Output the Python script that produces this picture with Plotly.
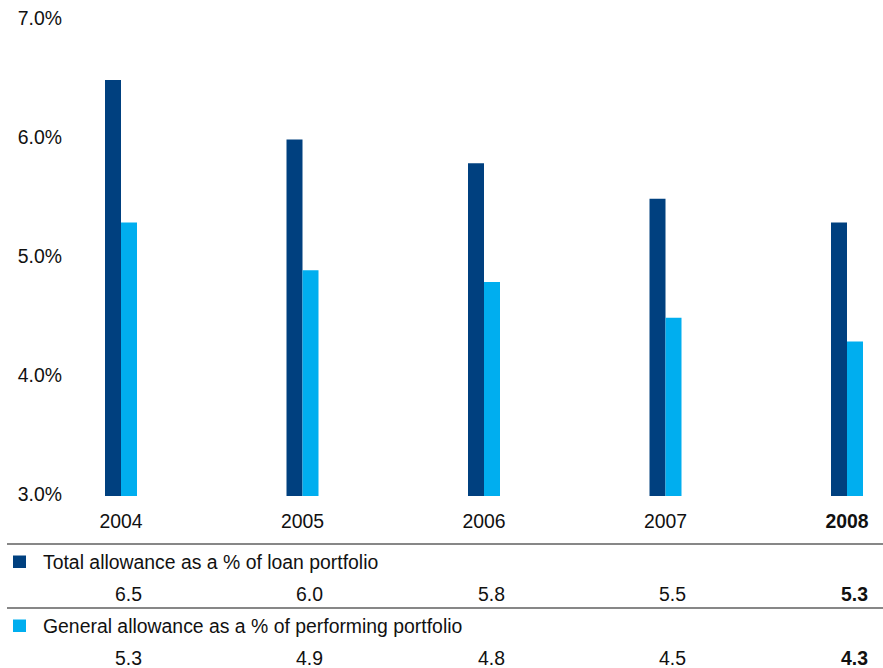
import plotly.graph_objects as go

# Data
years = ["2004", "2005", "2006", "2007", "2008"]
total_allowance = [6.5, 6.0, 5.8, 5.5, 5.3]
general_allowance = [5.3, 4.9, 4.8, 4.5, 4.3]
y_ticks = [3.0, 4.0, 5.0, 6.0, 7.0]
y_tick_labels = ["3.0%", "4.0%", "5.0%", "6.0%", "7.0%"]
series_names = [
    "Total allowance as a % of loan portfolio",
    "General allowance as a % of performing portfolio",
]

W, H = 883, 668
DARK = "#00407F"
LIGHT = "#00AEEF"
TEXT = "#111111"
FONT = "Liberation Sans"
FS = 19.4

def py(p):
    """Pixel row -> paper y (margins are zero)."""
    return 1 - p / H

def px(p):
    return p / W

# Plot box in pixels
top_px, bottom_px = 20.5, 496
left_px = 64
cat_step = 181.5
first_center = 121
x_lo = (left_px - first_center) / cat_step
x_hi = (W - first_center) / cat_step
bar_w = 16 / cat_step

xs = list(range(len(years)))

fig = go.Figure()
fig.add_trace(go.Bar(
    x=xs, y=total_allowance, width=bar_w, offset=-bar_w,
    marker=dict(color=DARK, line=dict(width=0)), name=series_names[0],
    showlegend=False,
))
fig.add_trace(go.Bar(
    x=xs, y=general_allowance, width=bar_w, offset=0,
    marker=dict(color=LIGHT, line=dict(width=0)), name=series_names[1],
    showlegend=False,
))

tick_text = [y if i < len(years) - 1 else f"<b>{y}</b>" for i, y in enumerate(years)]

fig.update_layout(
    width=W, height=H,
    margin=dict(l=0, r=0, t=0, b=0, pad=0),
    paper_bgcolor="white", plot_bgcolor="white",
    barmode="overlay",
    font=dict(family=FONT, size=FS, color=TEXT),
    xaxis=dict(
        domain=[px(left_px), 1], range=[x_lo, x_hi], automargin=False,
        tickmode="array", tickvals=xs, ticktext=tick_text,
        showgrid=False, zeroline=False, showline=False, ticks="",
        tickfont=dict(family=FONT, size=FS, color=TEXT),
        ticklabelstandoff=12,
    ),
    yaxis=dict(
        domain=[py(bottom_px), py(top_px)], range=[3, 7], automargin=False,
        tickmode="array", tickvals=y_ticks, ticktext=y_tick_labels,
        showgrid=False, zeroline=False, showline=False, ticks="",
        tickfont=dict(family=FONT, size=FS, color=TEXT),
        ticklabelstandoff=1, ticklabelshift=-2,
    ),
)

# Table rules
for yp in (544, 608):
    fig.add_shape(type="line", xref="paper", yref="paper",
                  x0=px(7), x1=1, y0=py(yp), y1=py(yp),
                  line=dict(color="#111111", width=1.2))

# Legend rows with swatches
rows = [
    (series_names[0], DARK, 562, 594, total_allowance),
    (series_names[1], LIGHT, 626, 658, general_allowance),
]
for name, color, label_y, value_y, values in rows:
    fig.add_shape(type="rect", xref="paper", yref="paper",
                  x0=px(13), x1=px(26), y0=py(label_y - 6.5), y1=py(label_y + 6),
                  fillcolor=color, line=dict(width=0))
    fig.add_annotation(xref="paper", yref="paper", x=px(41), y=py(label_y),
                       text=name, showarrow=False, xanchor="left", yanchor="middle",
                       font=dict(family=FONT, size=FS, color=TEXT))
    for i, v in enumerate(values):
        txt = f"{v:.1f}"
        if i == len(values) - 1:
            txt = f"<b>{txt}</b>"
        fig.add_annotation(xref="x", yref="paper", x=i + 0.125, y=py(value_y),
                           text=txt, showarrow=False, xanchor="right", yanchor="middle",
                           font=dict(family=FONT, size=FS, color=TEXT))

fig.write_html("out.html")
